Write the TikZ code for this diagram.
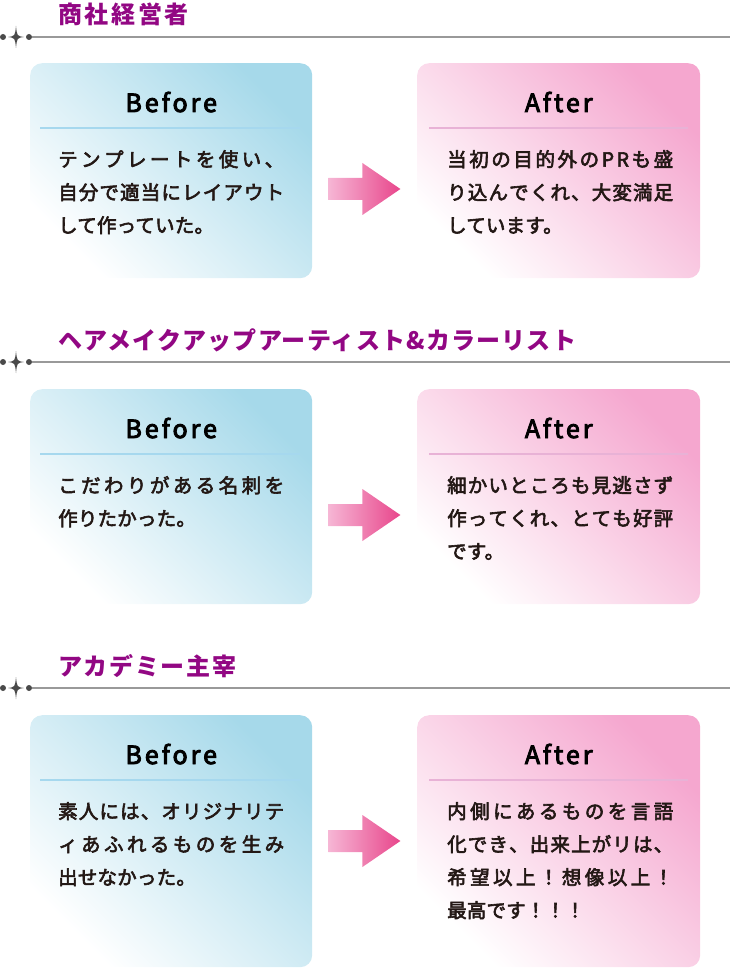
\documentclass[tikz,border=0pt]{standalone}
\usepackage{fontspec}
\usepackage{tikz}
\usetikzlibrary{calc}
\setmainfont{Noto Sans CJK JP}
\newfontfamily\headfont[LetterSpace=5]{Noto Sans CJK JP}
\newfontfamily\bodyfont[LetterSpace=1,FakeBold=3]{Noto Sans CJK JP}
\newfontfamily\titlefont[LetterSpace=12,FakeBold=3.5]{Noto Sans CJK JP}

\definecolor{headc}{HTML}{920783}
\definecolor{linec}{HTML}{999999}
\definecolor{dotc}{HTML}{4A4A4A}
\definecolor{bluec}{HTML}{A6D9EA}
\definecolor{pinkc}{HTML}{F5A7CF}
\definecolor{bluel}{HTML}{A6D8EE}
\definecolor{pinkl}{HTML}{E8B2D6}
\definecolor{txtc}{HTML}{231815}
\definecolor{arrl}{HTML}{F6B6D5}
\definecolor{arrr}{HTML}{E8468B}

% justified line: glue between every character
\def\jstend{jstend}
\def\jstx#1{\ifx#1\jstend\else #1\hfil\expandafter\jstx\fi}
\def\jst#1{\hbox to 226pt{\jstx#1\jstend\unskip}}

\tikzset{
  head/.style={anchor=west, inner sep=0, text=headc, font=\headfont\bfseries\fontsize{24}{24}\selectfont},
  hline/.style={draw=linec, line width=1.5pt},
  dot/.style={circle, fill=dotc, inner sep=0, minimum size=6pt},
  sparkle/.style={fill=dotc},
  beforebox/.style={anchor=north west, rounded corners=12pt, top color=bluec, bottom color=white, shading angle=-45, minimum width=282pt, inner sep=0},
  afterbox/.style={anchor=north west, rounded corners=12pt, top color=pinkc, bottom color=white, shading angle=-45, minimum width=283pt, inner sep=0},
  boxtitle/.style={anchor=base, inner sep=0, text=black, font=\titlefont\fontsize{25}{25}\selectfont},
  body/.style={anchor=north west, inner sep=0, align=left, text=txtc, font=\bodyfont\fontsize{19.5}{33}\selectfont},
  bdiv/.style={draw=bluel, line width=1.2pt},
  adiv/.style={draw=pinkl, line width=1.2pt},
  arrowfill/.style={left color=arrl, right color=arrr},
}

\begin{document}
\begin{tikzpicture}[x=1pt, y=-1pt]
  \useasboundingbox (0,0) rectangle (730,968);

  % section 1
  \node[head] (h1) at (58,14) {\addfontfeature{LetterSpace=11}商社経営者};
  \node[dot] (d1a) at (3,37) {};
  \node[dot] (d1b) at (29,37) {};
  \coordinate (e1) at (730,37);
  \fill[sparkle] (16,26) .. controls (17,36) .. (24,37) .. controls (17,38) .. (16,48)
    .. controls (15,38) .. (8,37) .. controls (15,36) .. (16,26) -- cycle;
  \draw[hline] (d1b) -- (e1);

  \node[beforebox, minimum height=215pt] (b1) at (30,63) {};
  \node[afterbox, minimum height=215pt] (a1) at (417,63) {};
  \node[boxtitle] (bt1) at ($(b1.north)+(0,49)$) {Before};
  \node[boxtitle] (at1) at ($(a1.north)+(0,49)$) {After};
  \draw[bdiv] ($(b1.north west)+(10,65)$) -- ($(b1.north east)+(-12,65)$);
  \draw[adiv] ($(a1.north west)+(12,65)$) -- ($(a1.north east)+(-12,65)$);
  \node[body] (bb1) at ($(b1.north west)+(28,87)$) {\jst{テンプレートを使い、}\\\jst{自分で適当にレイアウト}\\して作っていた。};
  \node[body] (ab1) at ($(a1.north west)+(30,87)$) {\jst{当初の目的外のPRも盛}\\\jst{り込んでくれ、大変満足}\\しています。};
  \shade[arrowfill] ($(b1.north east)+(16,115)$) -- ++(34,0) -- ++(0,-15) -- ++(38,26)
    -- ++(-38,26) -- ++(0,-15) -- ++(-34,0) -- cycle;

  % section 2
  \node[head] (h2) at (58,340) {ヘアメイクアップアーティスト\&カラーリスト};
  \node[dot] (d2a) at (3,362) {};
  \node[dot] (d2b) at (29,362) {};
  \coordinate (e2) at (730,362);
  \fill[sparkle] (16,351) .. controls (17,361) .. (24,362) .. controls (17,363) .. (16,373)
    .. controls (15,363) .. (8,362) .. controls (15,361) .. (16,351) -- cycle;
  \draw[hline] (d2b) -- (e2);

  \node[beforebox, minimum height=215pt] (b2) at (30,389) {};
  \node[afterbox, minimum height=215pt] (a2) at (417,389) {};
  \node[boxtitle] (bt2) at ($(b2.north)+(0,49)$) {Before};
  \node[boxtitle] (at2) at ($(a2.north)+(0,49)$) {After};
  \draw[bdiv] ($(b2.north west)+(10,65)$) -- ($(b2.north east)+(-12,65)$);
  \draw[adiv] ($(a2.north west)+(12,65)$) -- ($(a2.north east)+(-12,65)$);
  \node[body] (bb2) at ($(b2.north west)+(28,87)$) {\jst{こだわりがある名刺を}\\作りたかった。};
  \node[body] (ab2) at ($(a2.north west)+(30,87)$) {\jst{細かいところも見逃さず}\\\jst{作ってくれ、とても好評}\\です。};
  \shade[arrowfill] ($(b2.north east)+(16,115)$) -- ++(34,0) -- ++(0,-15) -- ++(38,26)
    -- ++(-38,26) -- ++(0,-15) -- ++(-34,0) -- cycle;

  % section 3
  \node[head] (h3) at (58,666) {\addfontfeature{LetterSpace=7}アカデミー主宰};
  \node[dot] (d3a) at (3,688) {};
  \node[dot] (d3b) at (29,688) {};
  \coordinate (e3) at (730,688);
  \fill[sparkle] (16,677) .. controls (17,687) .. (24,688) .. controls (17,689) .. (16,699)
    .. controls (15,689) .. (8,688) .. controls (15,687) .. (16,677) -- cycle;
  \draw[hline] (d3b) -- (e3);

  \node[beforebox, minimum height=252pt] (b3) at (30,715) {};
  \node[afterbox, minimum height=252pt] (a3) at (417,715) {};
  \node[boxtitle] (bt3) at ($(b3.north)+(0,49)$) {Before};
  \node[boxtitle] (at3) at ($(a3.north)+(0,49)$) {After};
  \draw[bdiv] ($(b3.north west)+(10,65)$) -- ($(b3.north east)+(-12,65)$);
  \draw[adiv] ($(a3.north west)+(12,65)$) -- ($(a3.north east)+(-12,65)$);
  \node[body] (bb3) at ($(b3.north west)+(28,87)$) {\jst{素人には、オリジナリテ}\\\jst{ィあふれるものを生み}\\出せなかった。};
  \node[body] (ab3) at ($(a3.north west)+(30,87)$) {\jst{内側にあるものを言語}\\\jst{化でき、出来上がリは、}\\\jst{希望以上！想像以上！}\\最高です！！！};
  \shade[arrowfill] ($(b3.north east)+(16,115)$) -- ++(34,0) -- ++(0,-15) -- ++(38,26)
    -- ++(-38,26) -- ++(0,-15) -- ++(-34,0) -- cycle;
\end{tikzpicture}
\end{document}
